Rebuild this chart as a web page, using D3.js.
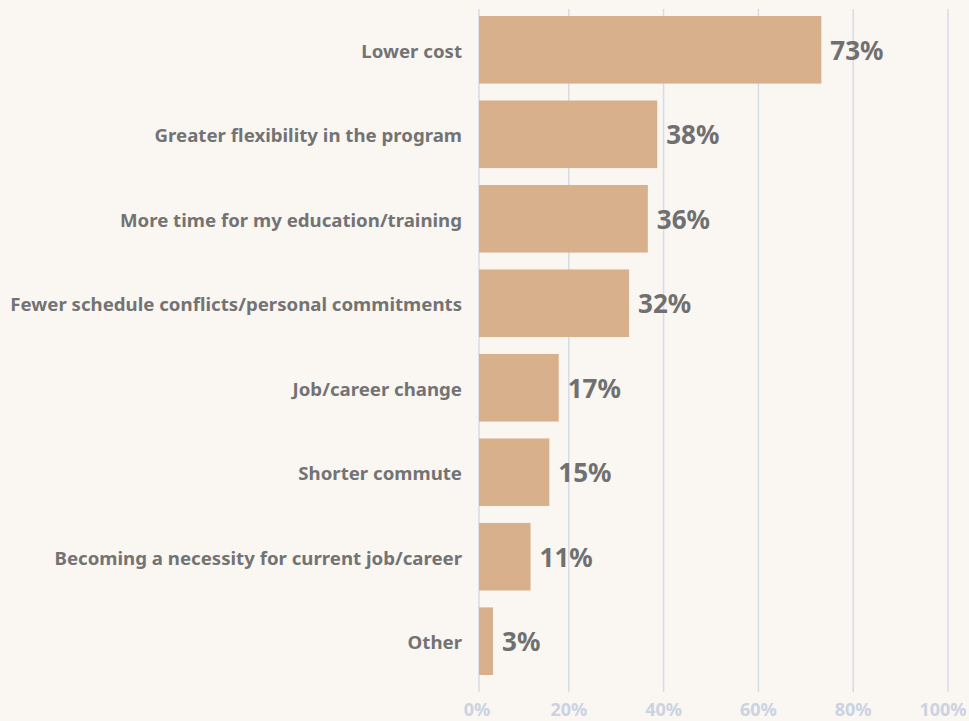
<!DOCTYPE html>
<html><head><meta charset="utf-8">
<script src="https://cdn.jsdelivr.net/npm/d3@7"></script>
<style>html,body{margin:0;padding:0;background:#faf7f3;}svg{display:block;}</style>
</head><body><svg id="c" width="969" height="721"></svg>
<script>
const categories = ["Lower cost","Greater flexibility in the program","More time for my education/training","Fewer schedule conflicts/personal commitments","Job/career change","Shorter commute","Becoming a necessity for current job/career","Other"];
const values = [73,38,36,32,17,15,11,3];
const ticks = [0,20,40,60,80,100];
const tickLabels = ["0%","20%","40%","60%","80%","100%"];

const svg = d3.select("#c");
const font = "'Noto Sans', 'Open Sans', sans-serif";
svg.append("rect").attr("width",969).attr("height",721).attr("fill","#faf7f3");

const x = d3.scaleLinear().domain([0,100]).range([479,948]);
const xGrid = d3.scaleLinear().domain([0,100]).range([474,948]);
const y = d3.scaleBand().domain(categories).range([16,675]).paddingInner(0.2).paddingOuter(0);

// gridlines
svg.append("g").selectAll("line").data(ticks).join("line")
  .attr("x1",d=>d===0?x(d):xGrid(d)).attr("x2",d=>d===0?x(d):xGrid(d))
  .attr("y1",9).attr("y2",692)
  .attr("stroke","#d6dbe7").attr("stroke-width",1.5);

// tick labels
svg.append("g").selectAll("text").data(ticks).join("text")
  .attr("x",(d,i)=>i===0?xGrid(d)+3:(i===ticks.length-1?xGrid(d)-5:xGrid(d)))
  .attr("y",716)
  .attr("text-anchor","middle")
  .attr("font-family",font).attr("font-weight",700).attr("font-size",18)
  .attr("fill","#cbd2e2")
  .text((d,i)=>tickLabels[i]);

// bars
svg.append("g").selectAll("rect").data(values).join("rect")
  .attr("x",x(0))
  .attr("y",(d,i)=>y(categories[i]))
  .attr("width",d=>x(d)-x(0))
  .attr("height",y.bandwidth())
  .attr("fill","#d9b08c");

// category labels
svg.append("g").selectAll("text").data(categories).join("text")
  .attr("x",462)
  .attr("y",d=>y(d)+y.bandwidth()/2+8)
  .attr("text-anchor","end")
  .attr("font-family",font).attr("font-weight",700).attr("font-size",18.65)
  .attr("fill","#737373")
  .text(d=>d);

// value labels
svg.append("g").selectAll("text").data(values).join("text")
  .attr("x",d=>x(d)+9)
  .attr("y",(d,i)=>y(categories[i])+y.bandwidth()/2+10)
  .attr("font-family",font).attr("font-weight",700).attr("font-size",26)
  .attr("fill","#707070")
  .text(d=>d+"%");
</script></body></html>
